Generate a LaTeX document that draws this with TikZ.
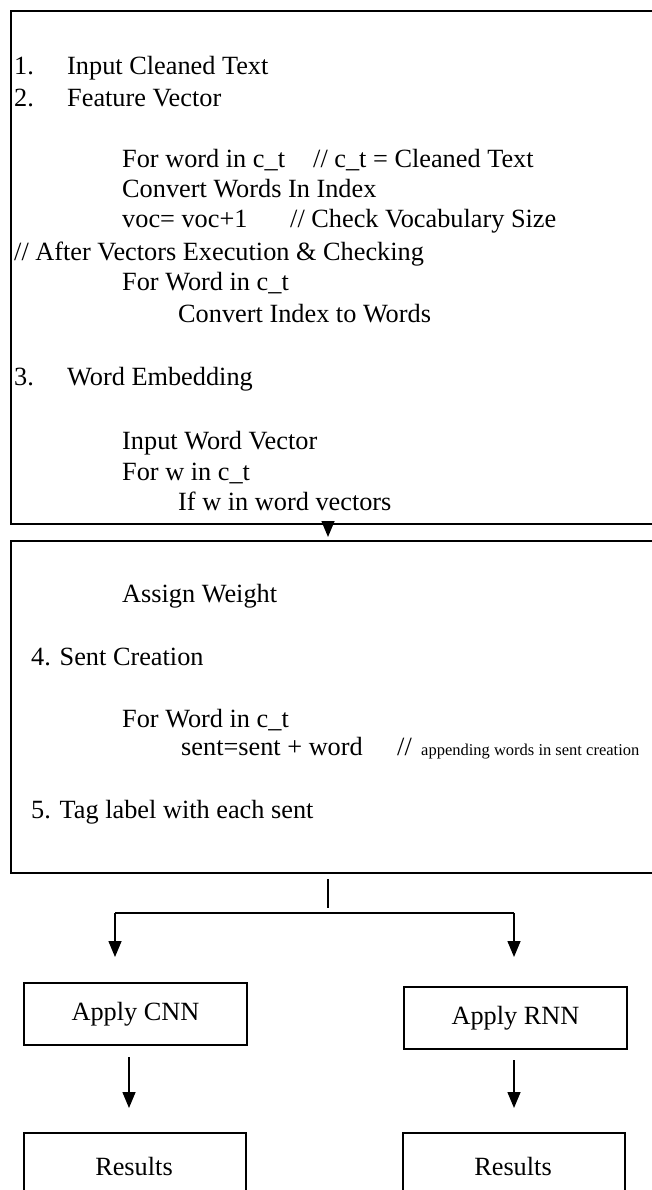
\documentclass[tikz,border=0pt]{standalone}
\usepackage{fontspec}
\setmainfont{Liberation Serif}
\usetikzlibrary{arrows.meta}
\begin{document}
\begin{tikzpicture}[x=1pt,y=-1pt,
  txt/.style={anchor=base west,inner sep=0pt,font=\fontsize{26.3}{31}\selectfont},
  smalltxt/.style={anchor=base west,inner sep=0pt,font=\fontsize{16.5}{20}\selectfont},
  bigbox/.style={draw,line width=2.2pt,anchor=north west,inner sep=0pt},
  smallbox/.style={draw,line width=2pt,anchor=north west,inner sep=0pt},
  conn/.style={line width=1.5pt},
  arr/.style={line width=1.5pt,-{Triangle[width=13pt,length=16pt]}}]
\useasboundingbox (0,0) rectangle (651,1190);
% boxes
\node[bigbox,minimum width=650,minimum height=513] (box1) at (10,10) {};
\node[bigbox,minimum width=650,minimum height=332] (box2) at (10,540) {};
\node[smallbox,minimum width=223,minimum height=62] (cnn) at (23,982) {};
\node[smallbox,minimum width=223,minimum height=62] (rnn) at (403,986) {};
\node[smallbox,minimum width=222,minimum height=80] (res1) at (23,1132) {};
\node[smallbox,minimum width=222,minimum height=80] (res2) at (402,1132) {};
\node[txt,anchor=center] (cnnt) at (cnn.center) {Apply CNN};
\node[txt,anchor=center] (rnnt) at (rnn.center) {Apply RNN};
\node[txt,anchor=base] (res1t) at (134,1175) {Results};
\node[txt,anchor=base] (res2t) at (513,1175) {Results};
% box 1 text
\node[txt] (n1) at (14,75) {1.};
\node[txt] (l1) at (67,75) {Input Cleaned Text};
\node[txt] (n2) at (14,107) {2.};
\node[txt] (l2) at (67,107) {Feature Vector};
\node[txt] (l3) at (122,168) {For word in c\_t};
\node[txt] (c3) at (313,168) {// c\_t = Cleaned Text};
\node[txt] (l4) at (122,198) {Convert Words In Index};
\node[txt] (l5) at (122,228) {voc= voc+1};
\node[txt] (c5) at (290,228) {// Check Vocabulary Size};
\node[txt] (l6) at (14,260) {// After Vectors Execution \& Checking};
\node[txt] (l7) at (122,290) {For Word in c\_t};
\node[txt] (l8) at (178,322) {Convert Index to Words};
\node[txt] (n3) at (14,385) {3.};
\node[txt] (l9) at (67,385) {Word Embedding};
\node[txt] (l10) at (122,449) {Input Word Vector};
\node[txt] (l11) at (122,480) {For w in c\_t};
\node[txt] (l12) at (178,510) {If w in word vectors};
% box 2 text
\node[txt] (m1) at (122,602) {Assign Weight};
\node[txt] (m2) at (31,665) {4. Sent Creation};
\node[txt] (m3) at (122,727) {For Word in c\_t};
\node[txt] (m4) at (181,755) {sent=sent + word};
\node[txt] (m5) at (397,755) {//};
\node[smalltxt] (m6) at (421,755) {appending words in sent creation};
\node[txt] (m7) at (31,818) {5. Tag label with each sent};
% connectors
\coordinate (split) at (328,913);
\coordinate (cnnin) at (115,957);
\coordinate (rnnin) at (514,957);
\coordinate (cnnout) at (129,1044);
\coordinate (rnnout) at (514,1048);
\draw[arr,shorten >=3pt] (box1.south -| split) -- (box2.north -| split);
\draw[conn,shorten <=5pt,shorten >=5pt] (box2.south -| split) -- (split);
\draw[conn] (cnnin |- split) -- (rnnin |- split);
\draw[arr] (cnnin |- split) -- (cnnin);
\draw[arr] (rnnin |- split) -- (rnnin);
\draw[arr,shorten <=13pt,shorten >=24pt] (cnnout) -- (cnnout |- res1.north);
\draw[arr,shorten <=12pt,shorten >=24pt] (rnnout) -- (rnnout |- res2.north);
\end{tikzpicture}
\end{document}
